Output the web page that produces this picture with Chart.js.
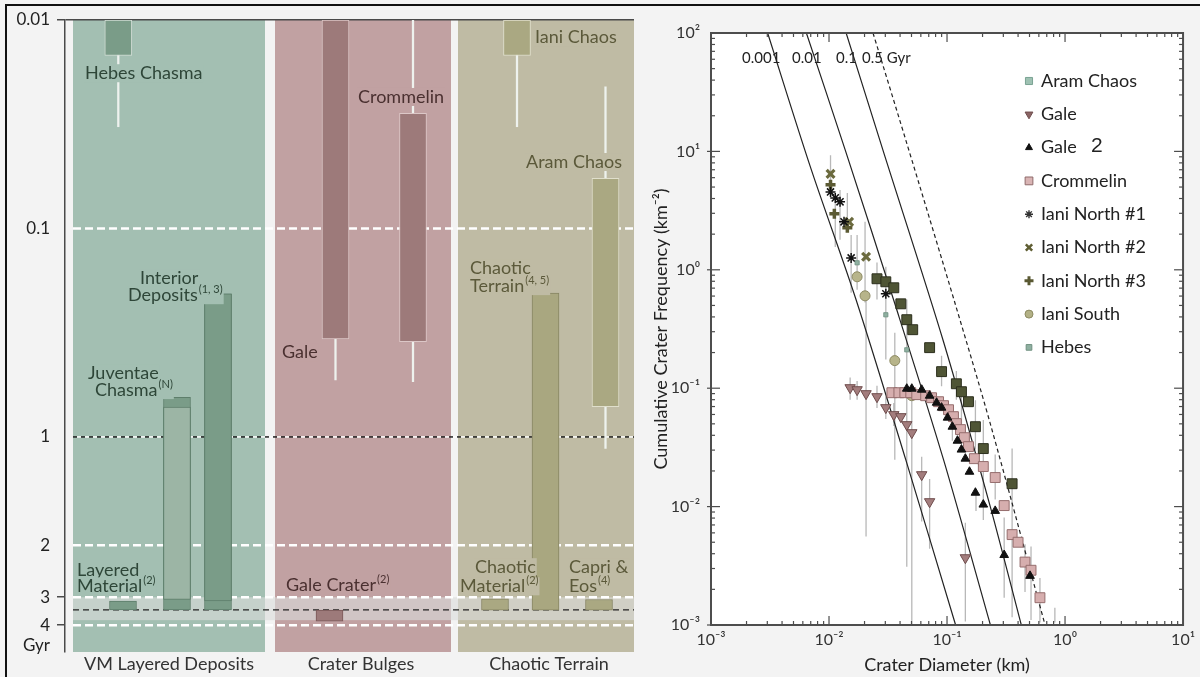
<!DOCTYPE html>
<html>
<head>
  <title>Crater ages</title>
  <style>
    body { margin: 0; background: #f3f3f3; }
    .box { position: absolute; top: 0; height: 677px; }
    #leftBox { left: 0; width: 640px; }
    #rightBox { left: 640px; width: 560px; }
    .rule { position: absolute; background: #111; }
  </style>
</head>
<body>
  <div class="box" id="leftBox"><canvas id="left"></canvas></div>
  <div class="box" id="rightBox"><canvas id="right"></canvas></div>
  <div class="rule" style="left:5px;top:4px;width:1195px;height:2px;"></div>
  <div class="rule" style="left:5px;top:4px;width:2px;height:673px;"></div>
  <script src="https://cdn.jsdelivr.net/npm/chart.js"></script>
  <script>
    var FONT = 'Lato, "Open Sans", sans-serif';
    Chart.defaults.font.family = FONT;
    Chart.defaults.color = '#333';

    // ---------- left panel: model ages (Gyr) ----------
    var groupNames = ['VM Layered Deposits', 'Crater Bulges', 'Chaotic Terrain'];
    var boxNames = ['Hebes Chasma', 'Layered Material', 'Juventae Chasma', 'Interior Deposits',
                    'Gale', 'Crommelin', 'Gale Crater',
                    'Iani Chaos', 'Chaotic Material', 'Chaotic Terrain', 'Capri & Eos', 'Aram Chaos'];
    var boxYoung = [0.01, 3.14, 0.645, 0.206, 0.01, 0.028, 3.46, 0.01, 3.06, 0.204, 3.08, 0.0574];
    var boxOld   = [0.0148, 3.45, 3.45, 3.45, 0.339, 0.349, 3.86, 0.0148, 3.46, 3.46, 3.46, 0.716];
    var whiskerYoung = [0.01, null, null, null, 0.01, 0.01, null, 0.01, null, null, null, 0.0209];
    var whiskerOld   = [0.0325, null, null, null, 0.533, 0.543, null, 0.0325, null, null, null, 1.105];
    var coreYoung = [null, null, 0.72, 0.206, null, null, null, null, null, null, null, null];
    var coreOld   = [null, null, 3.08, 3.13, null, null, null, null, null, null, null, null];

    var ageTicks = [0.01, 0.1, 1, 2, 3, 4];
    var whiteLines = [0.1, 2, 3, 4];
    var mixedLines = [1];
    var boundaryAge = 3.45;
    var bandAges = [3.0, 3.82];

    // left axis: decades up to 1 Gyr, then stretched knots
    var AGE_KNOTS = [1, 2, 3, 4, 5];
    var AGE_KNOT_POS = [2, 2.519, 2.769, 2.903, 3.037];
    var GYR_AT = 4.72;

    function agePos(a) {
      if (a <= 1) return Math.log10(a) + 2;
      for (var i = 1; i < AGE_KNOTS.length; i++) {
        if (a <= AGE_KNOTS[i] || i === AGE_KNOTS.length - 1) {
          var t = (a - AGE_KNOTS[i - 1]) / (AGE_KNOTS[i] - AGE_KNOTS[i - 1]);
          return AGE_KNOT_POS[i - 1] + t * (AGE_KNOT_POS[i] - AGE_KNOT_POS[i - 1]);
        }
      }
    }
    function posAge(p) {
      if (p <= 2) return Math.pow(10, p - 2);
      for (var i = 1; i < AGE_KNOTS.length; i++) {
        if (p <= AGE_KNOT_POS[i] || i === AGE_KNOTS.length - 1) {
          var t = (p - AGE_KNOT_POS[i - 1]) / (AGE_KNOT_POS[i] - AGE_KNOT_POS[i - 1]);
          return AGE_KNOTS[i - 1] + t * (AGE_KNOTS[i] - AGE_KNOTS[i - 1]);
        }
      }
    }

    class AgeScale extends Chart.LinearScale {
      buildTicks() {
        return ageTicks.concat([GYR_AT]).map(function (v) { return { value: v }; });
      }
      configure() {
        super.configure();
        this._p0 = agePos(this.min);
        this._p1 = agePos(this.max);
      }
      getPixelForValue(v) {
        return this.getPixelForDecimal((agePos(v) - this._p0) / (this._p1 - this._p0));
      }
      getValueForPixel(px) {
        return posAge(this._p0 + this.getDecimalForPixel(px) * (this._p1 - this._p0));
      }
    }
    AgeScale.id = 'age';
    AgeScale.defaults = Chart.LinearScale.defaults;
    Chart.register(AgeScale);

    // layout of the left panel (x in 10 px units)
    var boxSlot = [5.33, 5.8, 11.2, 15.3, 27.05, 34.8, 26.45, 45.2, 43.0, 48.05, 53.4, 54.05];
    var panelSpan = [[0.8, 20.0], [21.0, 38.6], [39.3, 56.9]];
    var groupCenter = [10.4, 29.6, 48.4];
    var panelColor = ['#a3bfb2', '#c1a1a2', '#bfbba4'];
    var boxFill = ['#7a9c88', '#7a9c88', '#7a9c88', '#7a9c88', '#9d7a7a', '#9d7a7a', '#9d7a7a',
                   '#aaa882', '#aaa882', '#a9a780', '#aaa882', '#aaa882'];
    var boxEdge = ['#d2ddd5', '#5e7e6b', '#5e7e6b', '#5e7e6b', '#dcc7c7', '#dcc7c7', '#7a5858',
                   '#e0dfcc', '#878563', '#878563', '#878563', '#e0dfcc'];
    var coreFill = [null, null, '#9cb5a5', '#7a9c88'];

    var LG = '#2e4638', LP = '#4a3030', LT = '#5b593a';
    var labels = [
      { t: 'Hebes Chasma', x: 2.0, y: 0.018, c: LG, p: 0 },
      { t: 'Interior', x: 7.5, y: 0.173, c: LG, p: 0 },
      { t: 'Deposits', s: '(1, 3)', x: 6.3, y: 0.209, c: LG, p: 0 },
      { t: 'Juventae', x: 2.3, y: 0.494, c: LG, p: 0 },
      { t: 'Chasma', s: '(N)', x: 3.0, y: 0.596, c: LG, p: 0 },
      { t: 'Layered', x: 1.2, y: 2.48, c: LG, p: 0 },
      { t: 'Material', s: '(2)', x: 1.2, y: 2.79, c: LG, p: 0 },
      { t: 'Gale', x: 21.7, y: 0.392, c: LP, p: 1 },
      { t: 'Crommelin', x: 29.3, y: 0.0234, c: LP, p: 1 },
      { t: 'Gale Crater', s: '(2)', x: 22.1, y: 2.77, c: LP, p: 1 },
      { t: 'Iani Chaos', x: 47.0, y: 0.0121, c: LT, p: 2 },
      { t: 'Aram Chaos', x: 46.1, y: 0.048, c: LT, p: 2 },
      { t: 'Chaotic', x: 40.5, y: 0.155, c: LT, p: 2 },
      { t: 'Terrain', s: '(4, 5)', x: 40.5, y: 0.189, c: LT, p: 2 },
      { t: 'Chaotic', x: 41.0, y: 2.423, c: LT, p: 2 },
      { t: 'Material', s: '(2)', x: 39.5, y: 2.79, c: LT, p: 2 },
      { t: 'Capri &', x: 50.4, y: 2.423, c: LT, p: 2 },
      { t: 'Eos', s: '(4)', x: 50.4, y: 2.79, c: LT, p: 2 }
    ];

    function hLine(age, color, dash, width, offset) {
      return {
        type: 'line', data: [{ x: panelSpan[0][0], y: age }, { x: panelSpan[2][1], y: age }],
        borderColor: color, borderDash: dash, borderDashOffset: offset || 0, borderWidth: width,
        pointRadius: 0, order: 5
      };
    }

    var boxIdx = boxNames.map(function (n, i) { return i; });
    var whiskIdx = boxIdx.filter(function (i) { return whiskerYoung[i] !== null; });
    var coreIdx = boxIdx.filter(function (i) { return coreYoung[i] !== null; });

    var leftDatasets = [];
    whiteLines.forEach(function (a) { leftDatasets.push(hLine(a, '#ffffff', [8, 4], 2.5)); });
    mixedLines.forEach(function (a) {
      leftDatasets.push(hLine(a, '#222222', [4, 4], 1.5, 0));
      leftDatasets.push(hLine(a, '#ffffff', [4, 4], 1.5, 4));
    });
    leftDatasets.push(hLine(boundaryAge, '#222222', [6, 4], 1.2));
    leftDatasets.push({
      type: 'bar', order: 3, barThickness: 1.6, borderWidth: 0, backgroundColor: '#eef2ee',
      data: whiskIdx.map(function (i) { return { x: boxSlot[i], y: [whiskerYoung[i], whiskerOld[i]] }; })
    });
    leftDatasets.push({
      type: 'bar', order: 2, barThickness: 27, borderWidth: 1,
      backgroundColor: boxIdx.map(function (i) { return boxFill[i]; }),
      borderColor: boxIdx.map(function (i) { return boxEdge[i]; }),
      data: boxIdx.map(function (i) { return { x: boxSlot[i], y: [boxYoung[i], boxOld[i]] }; })
    });
    leftDatasets.push({
      type: 'bar', order: 1, barThickness: 27, borderWidth: 1,
      backgroundColor: coreIdx.map(function (i) { return coreFill[i]; }),
      borderColor: coreIdx.map(function (i) { return boxEdge[i]; }),
      data: coreIdx.map(function (i) { return { x: boxSlot[i], y: [coreYoung[i], coreOld[i]] }; })
    });

    var leftPanels = {
      id: 'leftPanels',
      beforeDraw: function (chart) {
        var ctx = chart.ctx, a = chart.chartArea, x = chart.scales.x, y = chart.scales.y;
        ctx.save();
        panelSpan.forEach(function (sp, i) {
          var x0 = x.getPixelForValue(sp[0]), x1 = x.getPixelForValue(sp[1]);
          ctx.fillStyle = panelColor[i];
          ctx.fillRect(x0, a.top, x1 - x0, a.bottom - a.top);
        });
        var b0 = y.getPixelForValue(bandAges[0]), b1 = y.getPixelForValue(bandAges[1]);
        var bx0 = x.getPixelForValue(panelSpan[0][0]), bx1 = x.getPixelForValue(panelSpan[2][1]);
        ctx.fillStyle = 'rgba(218,220,218,0.62)';
        ctx.fillRect(bx0, b0, bx1 - bx0, b1 - b0);
        ctx.restore();
      },
      afterDatasetsDraw: function (chart) {
        var ctx = chart.ctx, x = chart.scales.x, y = chart.scales.y;
        ctx.save();
        ctx.textBaseline = 'middle';
        labels.forEach(function (l) {
          var px = x.getPixelForValue(l.x), py = y.getPixelForValue(l.y);
          ctx.font = '18px ' + FONT;
          var w = ctx.measureText(l.t).width;
          var sw = 0;
          if (l.s) { ctx.font = '11px ' + FONT; sw = ctx.measureText(l.s).width + 1; }
          ctx.fillStyle = panelColor[l.p];
          ctx.fillRect(px - 1, py - 9, w + sw + 2, 18);
          ctx.fillStyle = l.c;
          ctx.font = '18px ' + FONT;
          ctx.fillText(l.t, px, py);
          if (l.s) { ctx.font = '11px ' + FONT; ctx.fillText(l.s, px + w + 1, py - 6); }
        });
        ctx.restore();
      }
    };

    new Chart(document.getElementById('left'), {
      type: 'bar',
      data: { datasets: leftDatasets },
      plugins: [leftPanels],
      options: {
        responsive: true, maintainAspectRatio: false, animation: false,
        layout: { padding: { top: 20, right: 6, left: 0, bottom: 0 } },
        plugins: { legend: { display: false }, tooltip: { enabled: false } },
        datasets: { bar: { grouped: false, borderSkipped: false } },
        scales: {
          x: {
            type: 'linear', min: 0, max: 56.9, offset: false,
            afterFit: function (s) { s.height = 25; },
            afterBuildTicks: function (s) { s.ticks = groupCenter.map(function (v) { return { value: v }; }); },
            ticks: { callback: function (v, i) { return groupNames[i]; }, color: '#333', font: { size: 18 },
                     padding: 1, autoSkip: false, maxRotation: 0 },
            grid: { display: false, drawTicks: false, offset: false }, border: { display: false }
          },
          y: {
            type: 'age', position: 'left', min: 0.01, max: 4.96, reverse: true,
            afterFit: function (s) { s.width = 65; },
            ticks: {
              callback: function (v) { return v === GYR_AT ? 'Gyr' : String(v); },
              color: '#222', font: { size: 17 }, padding: 7, autoSkip: false
            },
            grid: {
              color: function (c) { return c.tick && c.tick.value === 0.01 ? '#4a4a4a' : 'rgba(0,0,0,0)'; },
              tickColor: function (c) {
                return c.tick && [0.01, 3, 4].indexOf(c.tick.value) >= 0 ? '#4a4a4a' : 'rgba(0,0,0,0)';
              },
              lineWidth: 1.5, tickLength: 8
            },
            border: { display: true, color: '#4a4a4a', width: 1.5 }
          }
        }
      }
    });

    // ---------- right panel: cumulative crater frequency ----------
    var seriesNames = ['Aram Chaos', 'Gale', 'Gale', 'Crommelin', 'Iani North #1', 'Iani North #2',
                       'Iani North #3', 'Iani South', 'Hebes'];

    var aramD = [0.0255, 0.0303, 0.0354, 0.0406, 0.0456, 0.0512, 0.0712, 0.0899, 0.120, 0.1325, 0.152, 0.174, 0.203, 0.356];
    var aramN = [0.84, 0.792, 0.705, 0.516, 0.379, 0.312, 0.220, 0.138, 0.109, 0.0934, 0.0769, 0.0473, 0.0309, 0.0156];
    var galeD = [0.0151, 0.0173, 0.0206, 0.0255, 0.0303, 0.0354, 0.0406, 0.0456, 0.0503, 0.061, 0.0712, 0.143];
    var galeN = [0.101, 0.0971, 0.0899, 0.0848, 0.0685, 0.0598, 0.0575, 0.0492, 0.0421, 0.0186, 0.0110, 0.0037];
    var gale2D = [0.0456, 0.0503, 0.061, 0.0712, 0.0816, 0.0899, 0.101, 0.111, 0.1226, 0.1325, 0.143, 0.155,
                  0.174, 0.203, 0.256, 0.305, 0.505];
    var gale2N = [0.099, 0.099, 0.0971, 0.0864, 0.0754, 0.0685, 0.0564, 0.0473, 0.036, 0.0303, 0.0254, 0.0197,
                  0.0131, 0.0104, 0.0092, 0.0039, 0.0026];
    var cromD = [0.0341, 0.0391, 0.0439, 0.0493, 0.0554, 0.0659, 0.074, 0.0848, 0.0934, 0.103, 0.1134, 0.120,
                 0.130, 0.1404, 0.152, 0.1705, 0.203, 0.256, 0.305, 0.356, 0.400, 0.458, 0.515, 0.613];
    var cromN = [0.0916, 0.0916, 0.0916, 0.0916, 0.0882, 0.0864, 0.0831, 0.0769, 0.0712, 0.0658, 0.0575, 0.0502,
                 0.0447, 0.0382, 0.0321, 0.0254, 0.0218, 0.0176, 0.0102, 0.0058, 0.0050, 0.0034, 0.0029, 0.0017];
    var ianiN1D = [0.0103, 0.0113, 0.0124, 0.0134, 0.0154, 0.0303];
    var ianiN1N = [4.55, 4.05, 3.75, 2.54, 1.26, 0.627];
    var ianiN2D = [0.0103, 0.0148, 0.0206];
    var ianiN2N = [6.46, 2.54, 1.29];
    var ianiN3D = [0.0103, 0.0111, 0.0143];
    var ianiN3N = [5.22, 2.97, 2.26];
    var ianiSD = [0.0173, 0.0202, 0.0361, 0.0503];
    var ianiSN = [0.873, 0.603, 0.171, 0.0864];
    var hebesD = [0.0173, 0.026, 0.0303, 0.0456];
    var hebesN = [1.146, 0.84, 0.417, 0.211];

    // error bars: diameter, low and high frequency
    var errD  = [0.0103, 0.0113, 0.0124, 0.0143, 0.0154, 0.0173, 0.0202, 0.0206, 0.0255, 0.0303, 0.0361, 0.0456,
                 0.0503, 0.0151, 0.0173, 0.0255, 0.0303, 0.0354, 0.061, 0.0712, 0.143, 0.1325, 0.174, 0.203,
                 0.256, 0.305, 0.356, 0.458, 0.515, 0.613, 0.82, 0.0899, 0.120, 0.176, 0.111];
    var errLo = [4.1, 1.56, 1.79, 2.09, 0.64, 0.68, 0.53, 0.0056, 0.56, 0.175, 0.0249, 0.0031,
                 0.001, 0.08, 0.08, 0.068, 0.055, 0.048, 0.0075, 0.0044, 0.00107, 0.0447, 0.0303, 0.0077,
                 0.0115, 0.0017, 0.00116, 0.0019, 0.0011, 0.00105, 0.00105, 0.104, 0.08, 0.0092, 0.036];
    var errHi = [9.3, 4.46, 4.73, 4.46, 1.97, 1.97, 2.54, 0.56, 1.15, 1.06, 0.294, 0.56,
                 0.085, 0.123, 0.115, 0.105, 0.085, 0.075, 0.0264, 0.0171, 0.0073, 0.101, 0.079, 0.054,
                 0.0275, 0.0081, 0.031, 0.0048, 0.0046, 0.0025, 0.0014, 0.188, 0.14, 0.0138, 0.06];

    // model isochrons (Gyr)
    var isoNames = ['0.001', '0.01', '0.1', '0.5 Gyr'];
    var iso001D = [0.00302, 0.00695, 0.01696, 0.0447, 0.1179];
    var iso001N = [100, 7.40, 0.558, 0.0249, 0.00101];
    var iso01D = [0.00643, 0.01371, 0.03683, 0.0934, 0.2325];
    var iso01N = [100, 10.3, 0.487, 0.0249, 0.00101];
    var iso1D = [0.01397, 0.0286, 0.0934, 0.2325, 0.425];
    var iso1N = [100, 10.3, 0.247, 0.0100, 0.00101];
    var iso5D = [0.0236, 0.0447, 0.1179, 0.2325, 0.6754];
    var iso5N = [100, 12.5, 0.507, 0.0502, 0.00101];

    var decadesX = [0.001, 0.01, 0.1, 1, 10];
    var decadesY = [0.001, 0.01, 0.1, 1, 10, 100];

    function pts(d, n) { return d.map(function (v, i) { return { x: v, y: n[i] }; }); }

    var markerStyle = [
      { ps: 'rect', r: 7, rot: 0, f: '#4f5535', e: '#2c2f1d', bw: 1 },
      { ps: 'triangle', r: 6, rot: 180, f: '#a37d7d', e: '#6f4d4d', bw: 1 },
      { ps: 'triangle', r: 5, rot: 0, f: '#111111', e: '#111111', bw: 1 },
      { ps: 'rect', r: 7, rot: 0, f: '#d6aeae', e: '#956d6d', bw: 1 },
      { ps: 'star', r: 5, rot: 0, f: '#111111', e: '#111111', bw: 1.5 },
      { ps: 'crossRot', r: 5.5, rot: 0, f: '#6b6a3e', e: '#6b6a3e', bw: 3.2 },
      { ps: 'cross', r: 5, rot: 0, f: '#5b5a33', e: '#5b5a33', bw: 3.5 },
      { ps: 'circle', r: 5, rot: 0, f: '#b7b48a', e: '#8e8b64', bw: 1 },
      { ps: 'rect', r: 3, rot: 0, f: '#8fb0a1', e: '#6f9080', bw: 0.8 }
    ];
    var legendStyle = [
      { ps: 'rect', r: 5, rot: 0, f: '#9ec1b2', e: '#7aa393', bw: 1 },
      { ps: 'triangle', r: 4.5, rot: 180, f: '#8a6464', e: '#6f4d4d', bw: 1 },
      { ps: 'triangle', r: 4, rot: 0, f: '#111111', e: '#111111', bw: 1 },
      { ps: 'rect', r: 5.5, rot: 0, f: '#d9b4b4', e: '#8f6a6a', bw: 1 },
      { ps: 'star', r: 4, rot: 0, f: '#333333', e: '#333333', bw: 1.4 },
      { ps: 'crossRot', r: 4.5, rot: 0, f: '#5f5e33', e: '#5f5e33', bw: 2.5 },
      { ps: 'cross', r: 4.5, rot: 0, f: '#595832', e: '#595832', bw: 3 },
      { ps: 'circle', r: 4, rot: 0, f: '#b3b186', e: '#8d8b62', bw: 1 },
      { ps: 'rect', r: 4, rot: 0, f: '#8fb0a1', e: '#6f9080', bw: 1 }
    ];

    var seriesPts = [pts(aramD, aramN), pts(galeD, galeN), pts(gale2D, gale2N), pts(cromD, cromN),
                     pts(ianiN1D, ianiN1N), pts(ianiN2D, ianiN2N), pts(ianiN3D, ianiN3N),
                     pts(ianiSD, ianiSN), pts(hebesD, hebesN)];

    var rightDatasets = seriesPts.map(function (p, i) {
      var s = markerStyle[i];
      return {
        label: seriesNames[i], data: p, showLine: false, order: 1,
        pointStyle: s.ps, pointRadius: s.r, pointRotation: s.rot,
        pointBackgroundColor: s.f, pointBorderColor: s.e, pointBorderWidth: s.bw
      };
    });
    [[iso001D, iso001N], [iso01D, iso01N], [iso1D, iso1N], [iso5D, iso5N]].forEach(function (l, i) {
      rightDatasets.push({
        label: isoNames[i], data: pts(l[0], l[1]), showLine: true, pointRadius: 0, order: 5,
        borderColor: '#222', borderWidth: 1.2, borderDash: i === 3 ? [4, 3] : [], tension: 0.3
      });
    });
    var errPts = [];
    errD.forEach(function (d, i) {
      errPts.push({ x: d, y: errLo[i] }, { x: d, y: errHi[i] }, { x: d, y: null });
    });
    rightDatasets.push({
      label: 'errors', data: errPts, showLine: true, spanGaps: false, pointRadius: 0, order: 9,
      borderColor: '#b8b8b8', borderWidth: 1.3
    });

    var SUP = { '-': '\u207B', '0': '\u2070', '1': '\u00B9', '2': '\u00B2', '3': '\u00B3' };
    function powLabel(v) {
      var e = String(Math.round(Math.log10(v)));
      return '10' + e.split('').map(function (c) { return SUP[c]; }).join('');
    }

    var rightFrame = {
      id: 'rightFrame',
      beforeDraw: function (chart) {
        var ctx = chart.ctx, a = chart.chartArea;
        ctx.save();
        ctx.fillStyle = '#ffffff';
        ctx.fillRect(a.left, a.top, a.right - a.left, a.bottom - a.top);
        ctx.restore();
      },
      afterDatasetsDraw: function (chart) {
        var ctx = chart.ctx, a = chart.chartArea, x = chart.scales.x, y = chart.scales.y;
        ctx.save();
        ctx.strokeStyle = '#4d4d4d';
        ctx.lineWidth = 1.2;
        function seg(x0, y0, x1, y1) { ctx.beginPath(); ctx.moveTo(x0, y0); ctx.lineTo(x1, y1); ctx.stroke(); }
        decadesX.slice(0, -1).forEach(function (d) {
          for (var m = 1; m <= 9; m++) {
            var px = x.getPixelForValue(d * m), len = m === 1 ? 9 : 4;
            seg(px, a.bottom, px, a.bottom - len);
            seg(px, a.top, px, a.top + len);
          }
        });
        decadesY.slice(0, -1).forEach(function (d) {
          for (var m = 1; m <= 9; m++) {
            var py = y.getPixelForValue(d * m), len = m === 1 ? 9 : 4;
            seg(a.left - (m === 1 ? 4 : 0), py, a.left + len, py);
            seg(a.right, py, a.right - len, py);
          }
        });
        ctx.lineWidth = 2;
        ctx.strokeRect(a.left, a.top, a.right - a.left, a.bottom - a.top);

        // isochron labels
        ctx.fillStyle = '#222';
        ctx.font = '15px ' + FONT;
        ctx.textBaseline = 'middle';
        var isoLabelX = [31, 81, 125, 151];
        isoNames.forEach(function (t, i) { ctx.fillText(t, a.left + isoLabelX[i], a.top + 25); });

        // legend
        seriesNames.forEach(function (name, i) {
          var s = legendStyle[i];
          var lx = a.left + 318, ly = a.top + 48 + i * 33.3;
          ctx.fillStyle = s.f; ctx.strokeStyle = s.e; ctx.lineWidth = s.bw;
          Chart.helpers.drawPoint(ctx, { pointStyle: s.ps, radius: s.r, rotation: s.rot, borderWidth: s.bw }, lx, ly);
          ctx.fillStyle = '#222';
          ctx.font = '18px ' + FONT;
          ctx.fillText(name, lx + 12, ly);
          if (i === 2) {
            ctx.font = '21px "Liberation Sans", Arial, sans-serif';
            ctx.fillText('2', lx + 62, ly - 1);
          }
        });
        ctx.restore();
      }
    };

    new Chart(document.getElementById('right'), {
      type: 'scatter',
      data: { datasets: rightDatasets },
      plugins: [rightFrame],
      options: {
        responsive: true, maintainAspectRatio: false, animation: false,
        layout: { padding: { top: 33, right: 14, left: 0, bottom: 0 } },
        plugins: { legend: { display: false }, tooltip: { enabled: false } },
        scales: {
          x: {
            type: 'logarithmic', min: 0.001, max: 10,
            afterFit: function (s) { s.height = 52; },
            afterBuildTicks: function (s) { s.ticks = decadesX.map(function (v) { return { value: v }; }); },
            ticks: { callback: powLabel, color: '#333', font: { size: 16 }, padding: 5, autoSkip: false, maxRotation: 0 },
            grid: { display: false, drawTicks: false }, border: { display: false },
            title: { display: true, text: 'Crater Diameter (km)', color: '#222', font: { size: 18 }, padding: { bottom: 1 } }
          },
          y: {
            type: 'logarithmic', min: 0.001, max: 100,
            afterFit: function (s) { s.width = 71; },
            afterBuildTicks: function (s) { s.ticks = decadesY.map(function (v) { return { value: v }; }); },
            ticks: { callback: powLabel, color: '#333', font: { size: 16 }, padding: 11, autoSkip: false },
            grid: { display: false, drawTicks: false }, border: { display: false },
            title: { display: true, text: 'Cumulative Crater Frequency (km\u207B\u00B2)', color: '#222',
                     font: { size: 18 }, padding: { top: 10 } }
          }
        }
      }
    });
  </script>
</body>
</html>
